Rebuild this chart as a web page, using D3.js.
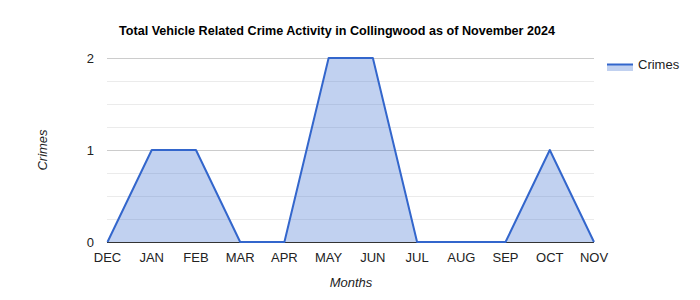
<!DOCTYPE html>
<html><head><meta charset="utf-8">
<script src="https://cdn.jsdelivr.net/npm/d3@7"></script>
<style>body{margin:0;background:#fff;} text{font-family:Arial,"Liberation Sans",sans-serif;}</style>
</head><body><svg id="c" width="700" height="300"></svg>
<script>
const months = ["DEC","JAN","FEB","MAR","APR","MAY","JUN","JUL","AUG","SEP","OCT","NOV"];
const crimes = [0,1,1,0,0,2,2,0,0,0,1,0];
const yTicks = [0,1,2];
const minorTicks = [0.25,0.5,0.75,1.25,1.5,1.75];
const title = "Total Vehicle Related Crime Activity in Collingwood as of November 2024";
const seriesName = "Crimes";

const svg = d3.select("#c");
const x = d3.scalePoint().domain(months).range([107.5, 594]);
const y = d3.scaleLinear().domain([0,2]).range([242, 58]);

svg.append("g").selectAll("line").data(minorTicks).join("line")
  .attr("x1",107).attr("x2",594).attr("y1",d=>Math.round(y(d))+0.5).attr("y2",d=>Math.round(y(d))+0.5)
  .attr("stroke","#ebebeb").attr("stroke-width",1);
svg.append("g").selectAll("line").data(yTicks.filter(d=>d>0)).join("line")
  .attr("x1",107).attr("x2",594).attr("y1",d=>Math.round(y(d))+0.5).attr("y2",d=>Math.round(y(d))+0.5)
  .attr("stroke","#cccccc").attr("stroke-width",1);

const data = months.map((m,i)=>({m, v:crimes[i]}));
svg.append("path").datum(data)
  .attr("d", d3.area().x(d=>x(d.m)).y0(y(0)).y1(d=>y(d.v)))
  .attr("fill","#3366cc").attr("fill-opacity",0.3);

svg.append("line").attr("x1",107).attr("x2",594).attr("y1",242.5).attr("y2",242.5)
  .attr("stroke","#333").attr("stroke-width",1);

svg.append("path").datum(data)
  .attr("d", d3.line().x(d=>x(d.m)).y(d=>y(d.v)))
  .attr("fill","none").attr("stroke","#3366cc").attr("stroke-width",2).attr("stroke-linejoin","round");

svg.append("g").selectAll("text").data(yTicks).join("text")
  .attr("x",94).attr("y",d=>y(d)+5).attr("text-anchor","end")
  .attr("font-size",13).attr("fill","#222").text(d=>d);

svg.append("g").selectAll("text").data(months).join("text")
  .attr("x",d=>x(d)).attr("y",262).attr("text-anchor","middle")
  .attr("font-size",13).attr("fill","#222").text(d=>d);

svg.append("text").attr("x",119).attr("y",35).attr("font-size",12.6).attr("font-weight","bold")
  .attr("fill","#000").text(title);

svg.append("text").attr("x",351).attr("y",287).attr("text-anchor","middle").attr("font-size",13)
  .attr("font-style","italic").attr("fill","#222").text("Months");

svg.append("text").attr("transform","translate(47,150) rotate(-90)").attr("text-anchor","middle")
  .attr("font-size",13).attr("font-style","italic").attr("fill","#222").text("Crimes");

const lg = svg.append("g");
lg.append("rect").attr("x",607).attr("y",64).attr("width",26).attr("height",7).attr("fill","#3366cc").attr("fill-opacity",0.3);
lg.append("line").attr("x1",607).attr("x2",633).attr("y1",64.5).attr("y2",64.5).attr("stroke","#3366cc").attr("stroke-width",2);
lg.append("text").attr("x",638).attr("y",69).attr("font-size",13).attr("fill","#222").text(seriesName);
</script></body></html>
